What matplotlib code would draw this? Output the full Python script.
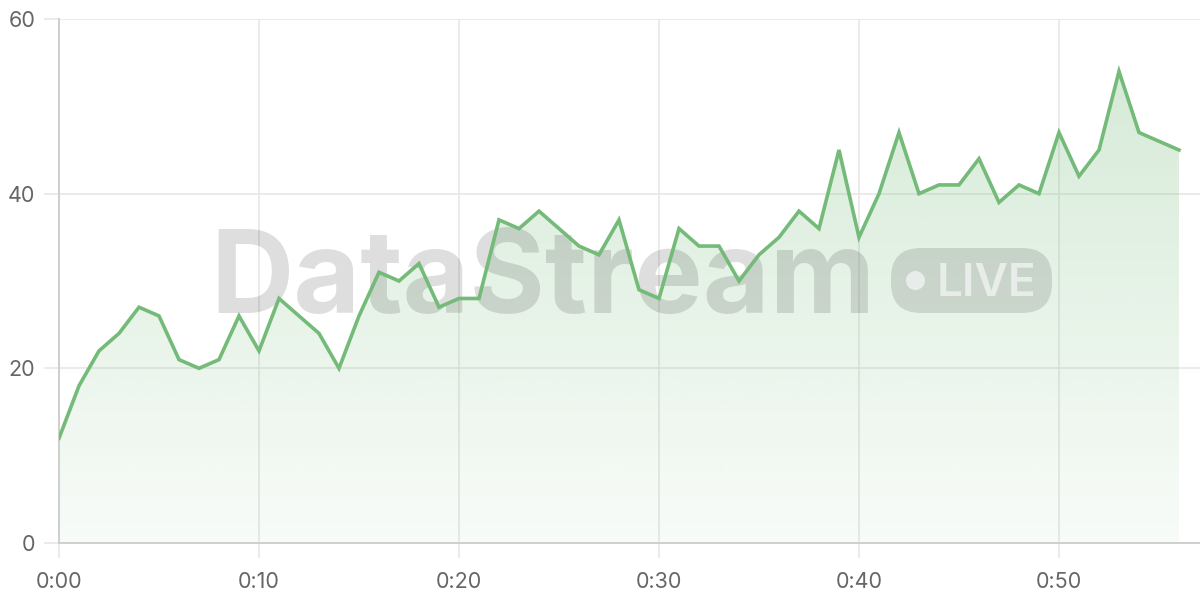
import numpy as np
import matplotlib
matplotlib.use("Agg")
import matplotlib.pyplot as plt
from matplotlib.patches import FancyBboxPatch, Circle
from matplotlib.colors import to_rgb

# данные: одна точка в минуту, 0:00 .. 0:56
minutes = list(range(57))
values = [12, 18, 22, 24, 27, 26, 21, 20, 21, 26,
          22, 28, 26, 24, 20, 26, 31, 30, 32, 27,
          28, 28, 37, 36, 38, 36, 34, 33, 37, 29,
          28, 36, 34, 34, 30, 33, 35, 38, 36, 45,
          35, 40, 47, 40, 41, 41, 44, 39, 41, 40,
          47, 42, 45, 54, 47, 46, 45]
x_ticks = [0, 10, 20, 30, 40, 50]
x_labels = ["0:00", "0:10", "0:20", "0:30", "0:40", "0:50"]
y_ticks = [0, 20, 40, 60]

LINE = "#74BA79"
GRID = "#E8E8E8"
AXIS = "#CFCFCF"
TEXT = "#666666"

plt.rcParams["font.family"] = ["Inter", "DejaVu Sans"]

fig = plt.figure(figsize=(12, 6), dpi=100)
ax = fig.add_axes([59 / 1200, 57 / 600, 1141 / 1200, 524 / 600])
ax.set_xlim(0, 1141 / 20)
ax.set_ylim(0, 60)

# сетка и оси
ax.set_xticks(x_ticks)
ax.set_xticklabels(x_labels)
ax.set_yticks(y_ticks)
ax.grid(color=GRID, linewidth=1.2, zorder=0)
ax.set_axisbelow(True)
for side in ("top", "right"):
    ax.spines[side].set_visible(False)
for side in ("left", "bottom"):
    ax.spines[side].set_color(AXIS)
    ax.spines[side].set_linewidth(1.4)
ax.tick_params(axis="x", length=11, width=1.2, color=GRID, pad=10,
               labelsize=15.5, labelcolor=TEXT)
ax.tick_params(axis="y", length=11, width=1.2, color=GRID, pad=6,
               labelsize=15.5, labelcolor=TEXT)

# градиентная заливка под линией
rgb = np.array(to_rgb(LINE))
grad = np.zeros((256, 1, 4))
grad[:, 0, :3] = rgb
grad[:, 0, 3] = np.linspace(0.32, 0.05, 256)
poly = ax.fill_between(minutes, values, 0, color="none", zorder=1)
img = ax.imshow(grad, extent=[0, minutes[-1], 0, 60], origin="upper",
                aspect="auto", zorder=1, interpolation="bicubic")
img.set_clip_path(poly.get_paths()[0], transform=ax.transData)

# водяной знак (под линией, поверх заливки)
ax.text(210 / 1200, 1 - 313 / 600, "DataStream", transform=fig.transFigure,
        fontsize=83, fontweight="bold", color="black", alpha=0.13,
        ha="left", va="baseline", zorder=2, clip_on=False)
badge = FancyBboxPatch((8.91, 2.87), 1.61, 0.65,
                       boxstyle="round,pad=0,rounding_size=0.3",
                       transform=fig.dpi_scale_trans, facecolor="black",
                       alpha=0.12, edgecolor="none", zorder=2, clip_on=False)
ax.add_patch(badge)
dot = Circle((9.155, 3.195), 0.095, transform=fig.dpi_scale_trans,
             facecolor="white", alpha=0.6, edgecolor="none", zorder=3,
             clip_on=False)
ax.add_patch(dot)
ax.text(937 / 1200, 1 - 296 / 600, "LIVE", transform=fig.transFigure,
        fontsize=33, fontweight="semibold", color="white", alpha=0.6,
        ha="left", va="baseline", zorder=3, clip_on=False)

ax.plot(minutes, values, color=LINE, linewidth=2.6, zorder=4,
        solid_joinstyle="miter")

fig.savefig("out.png", dpi=100)
